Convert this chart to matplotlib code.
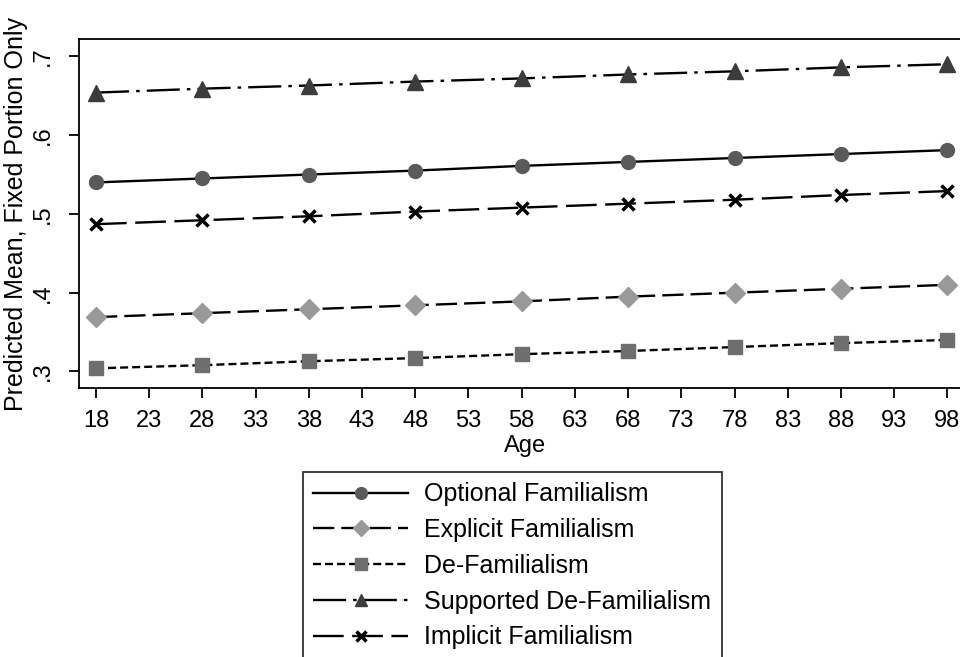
import numpy as np
import matplotlib
matplotlib.use('Agg')
import matplotlib.pyplot as plt

plt.rcParams['font.family'] = ['Liberation Sans', 'DejaVu Sans']

# ages and predicted means
age = [18, 28, 38, 48, 58, 68, 78, 88, 98]
optional_fam = [0.540, 0.545, 0.550, 0.555, 0.561, 0.566, 0.571, 0.576, 0.581]
explicit_fam = [0.369, 0.374, 0.379, 0.384, 0.389, 0.395, 0.400, 0.405, 0.410]
de_fam = [0.304, 0.308, 0.313, 0.317, 0.322, 0.326, 0.331, 0.336, 0.340]
supported_de_fam = [0.654, 0.659, 0.663, 0.668, 0.672, 0.677, 0.681, 0.686, 0.690]
implicit_fam = [0.487, 0.492, 0.497, 0.503, 0.508, 0.513, 0.518, 0.524, 0.529]

xticks = list(range(18, 99, 5))
yticks = [0.3, 0.4, 0.5, 0.6, 0.7]
ytick_labels = ['.3', '.4', '.5', '.6', '.7']

fig = plt.figure(figsize=(9.6, 6.57), dpi=100)
ax = fig.add_axes([0.0823, 0.4094, 0.93, 0.5312])

lw = 1.7
ax.plot(age, optional_fam, color='black', lw=lw, ls='-',
        marker='o', ms=10, mfc='#5a5a5a', mec='#5a5a5a', label='Optional Familialism')
ax.plot(age, explicit_fam, color='black', lw=lw, ls=(0, (9, 3)),
        marker='D', ms=10, mfc='#999999', mec='#999999', label='Explicit Familialism')
ax.plot(age, de_fam, color='black', lw=lw, ls=(0, (3.4, 1.7)),
        marker='s', ms=10, mfc='#6e6e6e', mec='#6e6e6e', label='De-Familialism')
ax.plot(age, supported_de_fam, color='black', lw=lw, ls=(0, (14, 3, 1.5, 3)),
        marker='^', ms=11, mfc='#3c3c3c', mec='#3c3c3c', label='Supported De-Familialism')
ax.plot(age, implicit_fam, color='black', lw=lw, ls=(0, (13, 3.6)),
        marker='x', ms=9, mew=2.5, mec='black', label='Implicit Familialism')

ax.set_xlim(16.4, 100.3)
ax.set_ylim(0.279, 0.722)
ax.set_xticks(xticks)
ax.set_xticklabels([str(t) for t in xticks], fontsize=17)
ax.set_yticks(yticks)
ax.set_yticklabels(ytick_labels, fontsize=17, rotation=90, va='center')
ax.tick_params(axis='x', direction='out', length=7, width=1.3, pad=9)
ax.tick_params(axis='y', direction='out', length=7, width=1.3, pad=11)

for s in ['left', 'bottom', 'top']:
    ax.spines[s].set_linewidth(1.3)
ax.spines['right'].set_visible(False)

ax.set_xlabel('Age', fontsize=17, labelpad=2)
ax.set_ylabel('Predicted Mean, Fixed Portion Only', fontsize=18, labelpad=3)

leg = fig.legend(loc='upper left', bbox_to_anchor=(0.3156, 0.2816), fontsize=18,
                 frameon=True, fancybox=False, edgecolor='black', borderaxespad=0,
                 handlelength=3.8, handletextpad=0.64, labelspacing=0.47,
                 borderpad=0.42, markerscale=0.85)
leg.get_frame().set_linewidth(1.3)

fig.savefig('out.png', dpi=100)
